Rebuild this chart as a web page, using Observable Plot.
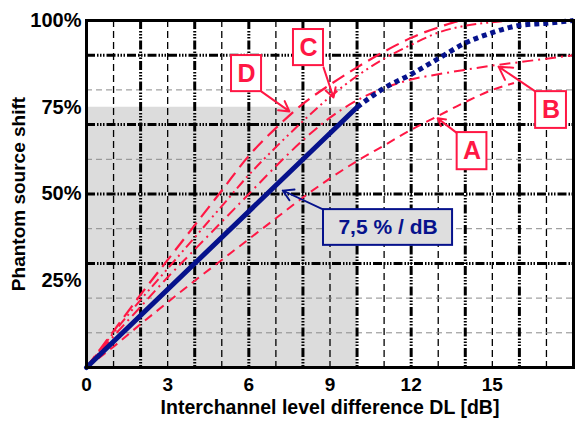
<!DOCTYPE html>
<html>
<head>
<meta charset="utf-8">
<script src="https://cdn.jsdelivr.net/npm/d3@7"></script>
<script src="https://cdn.jsdelivr.net/npm/@observablehq/plot@0.6"></script>
<style>
  html, body { margin: 0; padding: 0; background: #fff; }
  #chart { width: 575px; height: 421px; }
</style>
</head>
<body>
<div id="chart"></div>
<script>
// ---- data ----
const xTicks = [0, 3, 6, 9, 12, 15];
const yTicks = [25, 50, 75, 100];
const gridXMajor = [2, 4, 6, 8, 10, 12, 14, 16];
const gridXMinor = [1, 3, 5, 7, 9, 11, 13, 15, 17];
const gridYMajor = [30, 50, 70, 90];
const gridYMinor = [10, 20, 40, 60, 80];
const shadedRegion = [{x1: 0, x2: 10, y1: 0, y2: 75}];

// blue: linear 7.5 %/dB up to 10 dB, then saturating (dotted)
const blueLinear = [[0, 0], [10, 75]];
const blueSaturating = [[10, 75], [11, 80.5], [12, 84.5], [13, 89], [14, 93.5], [15, 96.5], [16, 98.6], [17, 99.2], [18, 100]];

// red measured curves
const curveA = [[0, 0], [1, 6], [2, 12.5], [3, 18.8], [4, 25], [5, 31], [6, 37], [7, 43], [8, 49], [9, 54.5], [10, 59.5], [11, 64], [12, 68.5], [13, 72.5], [14, 76.5], [15, 80], [15.8, 82]];
const curveB = [[0, 0], [1, 9], [2, 17.5], [3, 26], [4, 34], [5, 42], [6, 50], [7, 58], [8, 65.5], [9, 72], [10, 77], [11, 80.5], [12, 83], [13, 84.5], [14, 85.8], [15, 87], [16, 88], [17, 89], [18, 90]];
const curveC = [[0, 0], [1, 10], [2, 19.5], [3, 28.5], [4, 37.5], [5, 46.5], [6, 55.5], [7, 63.5], [8, 71], [9, 78], [10, 84], [11, 89], [12, 93], [13, 96.5], [14, 98.5], [15, 99.5], [16, 100], [18, 100]];
const curveD = [[0, 0], [1, 10.5], [2, 21], [3, 31], [4, 41], [5, 51], [6, 61], [7, 69], [8, 76], [9, 81.5], [10, 86.5], [11, 91], [12, 95], [13, 98], [14, 100], [18, 100]];

// annotation labels (box extents and arrow ends in data units)
const labelBoxes = [
  {text: "D", x1: 5.36, x2: 6.47, y1: 79.5, y2: 89.9},
  {text: "C", x1: 7.65, x2: 8.76, y1: 87, y2: 97.4},
  {text: "B", x1: 16.6, x2: 17.74, y1: 68.9, y2: 79.5},
  {text: "A", x1: 13.7, x2: 14.8, y1: 57, y2: 67.7}
];
const labelArrows = [
  {x1: 6.47, y1: 79.5, x2: 7.5, y2: 73.8},
  {x1: 8.76, y1: 86.5, x2: 9.13, y2: 77.8},
  {x1: 16.6, y1: 79.5, x2: 15.23, y2: 86.7},
  {x1: 13.72, y1: 67.4, x2: 12.98, y2: 71.8}
];
const slopeBox = [{text: "7,5 % / dB", x1: 8.76, x2: 13.53, y1: 35.2, y2: 45.5}];
const slopeArrow = [{x1: 8.76, y1: 45.5, x2: 7.25, y2: 51}];

const xLabel = "Interchannel level difference DL [dB]";
const yLabel = "Phantom source shift";

// ---- styling ----
const RED = "#ff1744";
const BLUE = "#06128c";
const majorDash = "9,2,1.5,1.5,1.5,1.5,1.5,2";
const px = d => d[0], py = d => d[1];

const chart = Plot.plot({
  width: 575,
  height: 421,
  marginLeft: 86,
  marginRight: 2,
  marginTop: 20,
  marginBottom: 54,
  x: {domain: [0, 18]},
  y: {domain: [0, 100]},
  style: {fontFamily: "'Liberation Sans', Arial, sans-serif", background: "#fff", color: "#000"},
  marks: [
    Plot.rect(shadedRegion, {x1: "x1", x2: "x2", y1: "y1", y2: "y2", fill: "#dcdcdc"}),
    Plot.ruleX(gridXMinor, {stroke: "#000", strokeWidth: 1.3, strokeDasharray: "7,4"}),
    Plot.ruleY(gridYMinor, {stroke: "#8a8a8a", strokeWidth: 1, strokeDasharray: "6,4"}),
    Plot.ruleX(gridXMajor, {stroke: "#000", strokeWidth: 3, strokeDasharray: majorDash}),
    Plot.ruleY(gridYMajor, {stroke: "#000", strokeWidth: 3, strokeDasharray: majorDash}),
    Plot.line(curveA, {x: px, y: py, stroke: RED, strokeWidth: 2, strokeDasharray: "9,6", strokeLinecap: "butt", curve: "monotone-x"}),
    Plot.line(curveB, {x: px, y: py, stroke: RED, strokeWidth: 2, strokeDasharray: "11,5,2,5", strokeLinecap: "butt", curve: "monotone-x"}),
    Plot.line(curveC, {x: px, y: py, stroke: RED, strokeWidth: 2, strokeDasharray: "10,4,2,4,2,4", strokeLinecap: "butt", curve: "monotone-x"}),
    Plot.line(curveD, {x: px, y: py, stroke: RED, strokeWidth: 2.2, strokeDasharray: "14,7", strokeLinecap: "butt", curve: "monotone-x"}),
    Plot.line(blueLinear, {x: px, y: py, stroke: BLUE, strokeWidth: 5}),
    Plot.line(blueSaturating, {x: px, y: py, stroke: BLUE, strokeWidth: 5, strokeDasharray: "5,4", strokeLinecap: "butt", curve: "monotone-x"}),
    Plot.frame({stroke: "#000", strokeWidth: 3}),
    Plot.arrow(labelArrows, {x1: "x1", y1: "y1", x2: "x2", y2: "y2", stroke: RED, strokeWidth: 2, headLength: 11}),
    Plot.rect(labelBoxes, {x1: "x1", x2: "x2", y1: "y1", y2: "y2", fill: "#fff", stroke: RED, strokeWidth: 2}),
    Plot.text(labelBoxes, {x: d => (d.x1 + d.x2) / 2, y: d => (d.y1 + d.y2) / 2, text: "text", fill: RED, fontSize: 25, fontWeight: "bold"}),
    Plot.arrow(slopeArrow, {x1: "x1", y1: "y1", x2: "x2", y2: "y2", stroke: BLUE, strokeWidth: 1.8, headLength: 10}),
    Plot.rect(slopeBox, {x1: "x1", x2: "x2", y1: "y1", y2: "y2", fill: "#dedede", stroke: BLUE, strokeWidth: 2}),
    Plot.text(slopeBox, {x: d => (d.x1 + d.x2) / 2, y: d => (d.y1 + d.y2) / 2, text: "text", fill: BLUE, fontSize: 21, fontWeight: "bold"}),
    Plot.axisX(xTicks, {tickSize: 0, tickPadding: 10, fontSize: 19, fontWeight: "bold", label: null}),
    Plot.axisY(yTicks, {tickSize: 0, tickPadding: 5, fontSize: 20, fontWeight: "bold", tickFormat: d => d + "%", label: null}),
    Plot.text([xLabel], {frameAnchor: "bottom", dy: 46, fontSize: 19.5, fontWeight: "bold", fill: "#000"}),
    Plot.text([yLabel], {frameAnchor: "left", textAnchor: "middle", dx: -68, rotate: -90, fontSize: 19, fontWeight: "bold", fill: "#000"})
  ]
});
document.getElementById("chart").appendChild(chart);
</script>
</body>
</html>
